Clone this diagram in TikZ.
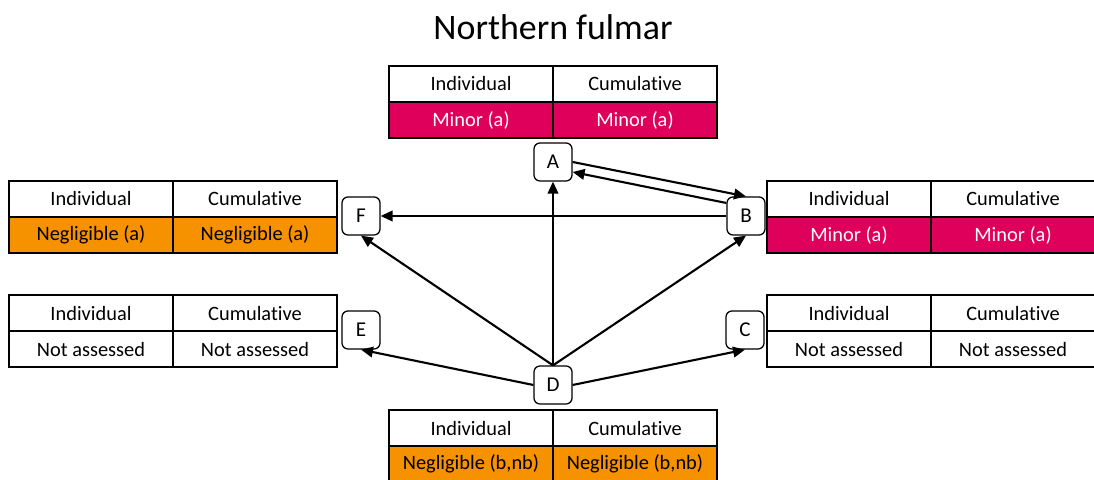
\documentclass[tikz,border=0pt]{standalone}
\usepackage{fontspec}
\setmainfont{Carlito}[Ligatures=NoCommon]
\usetikzlibrary{arrows.meta,positioning,calc}

\definecolor{minorred}{RGB}{222,0,90}
\definecolor{negorange}{RGB}{246,145,0}

\tikzset{
  cell/.style={draw, line width=0.8pt, minimum width=4.1cm, minimum height=0.9cm,
    inner sep=0pt, font=\fontsize{14.5}{16}\selectfont},
  stage/.style={draw, rounded corners=0.15cm, line width=0.9pt, minimum size=0.95cm,
    inner sep=0pt, fill=white, font=\fontsize{15}{16}\selectfont},
  link/.style={-{Triangle[length=8.5pt,width=7.5pt]}, line width=1.5pt}
}

\begin{document}
\begin{tikzpicture}[x=0.025cm,y=0.025cm]
  \useasboundingbox (0,0) rectangle (1094,480);

  \node[font=\fontsize{25.5}{28}\selectfont] (title) at (553,453) {Northern fulmar};

  % impact tables: name / left x / top y / fill / text colour / value
  \foreach \t/\l/\top/\f/\c/\v in {a/389/414/minorred/white/Minor (a),
      f/9/299/negorange/black/Negligible (a),
      b/767/299/minorred/white/Minor (a),
      e/9/185/white/black/Not assessed,
      c/767/185/white/black/Not assessed,
      d/389/70/negorange/black/{Negligible (b,nb)}}{
    \node[cell] (\t-ind) at (\l+82,\top-18) {Individual};
    \node[cell] (\t-cum) at (\l+246,\top-18) {Cumulative};
    \node[cell, fill=\f, text=\c] (\t-indval) at (\l+82,\top-54) {\v};
    \node[cell, fill=\f, text=\c] (\t-cumval) at (\l+246,\top-54) {\v};
  }

  \node[stage] (A) at (553,318) {A};
  \node[stage] (B) at (746,264) {B};
  \node[stage] (C) at (745,150) {C};
  \node[stage] (D) at (553,95) {D};
  \node[stage] (E) at (361,150) {E};
  \node[stage] (F) at (361,264) {F};

  \draw[link] (A.east) -- (B.north);
  \draw[link] ($(B.west)+(0,13)$) -- ($(A.east)+(0,-10)$);
  \draw[link] (B.west) -- (F.east);
  \draw[link] (D.north) -- (A.south);
  \draw[link] (D.north) -- (F.south);
  \draw[link] (D.north) -- (B.south);
  \draw[link] (D.west) -- (E.south);
  \draw[link] (D.east) -- (C.south);

\end{tikzpicture}
\end{document}
